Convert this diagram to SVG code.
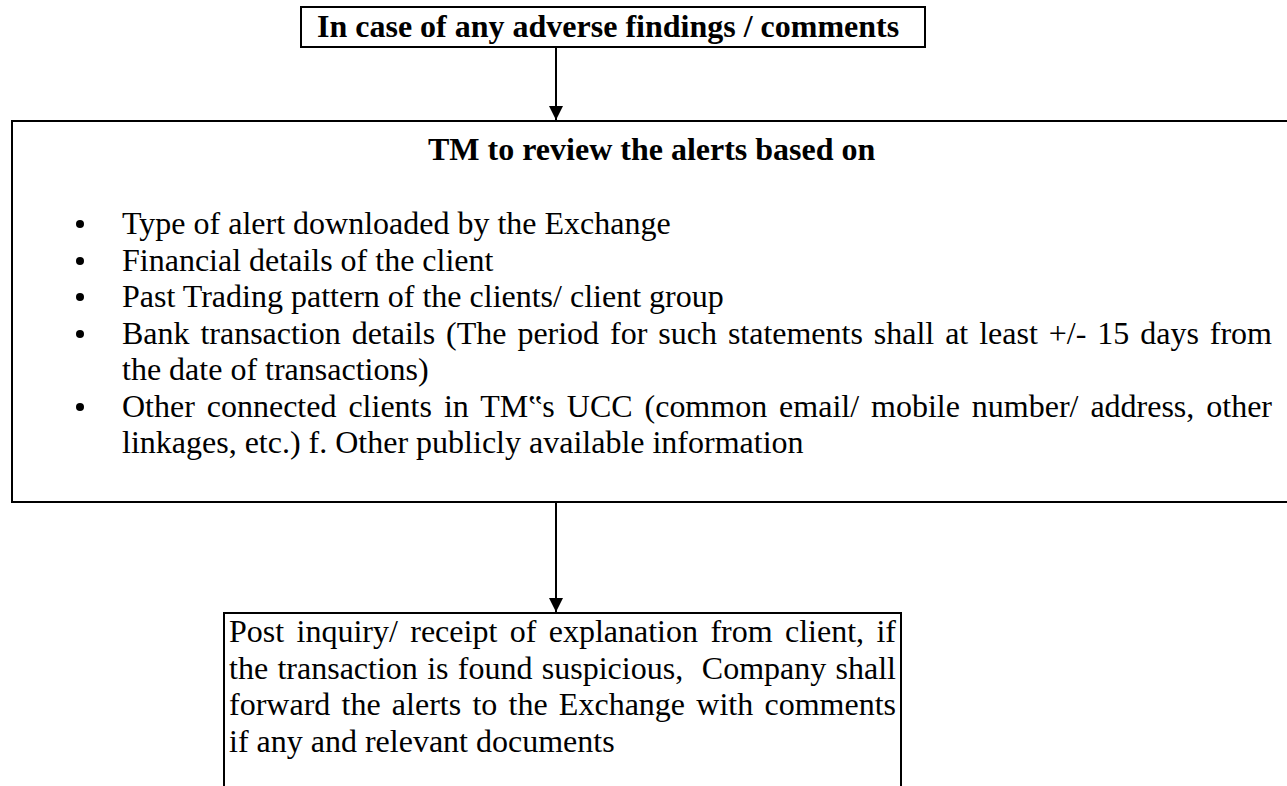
<svg xmlns="http://www.w3.org/2000/svg" width="1287" height="786" viewBox="0 0 1287 786">
<defs>
<marker id="ah" viewBox="0 0 14 14" refX="14" refY="7" markerWidth="14" markerHeight="14" markerUnits="userSpaceOnUse" orient="auto">
<path d="M0,0 L14,7 L0,14 z" fill="#000"/>
</marker>
<style>
.box{fill:#fff;stroke:#000;stroke-width:2}
.t{font-family:"Liberation Serif","Times New Roman","DejaVu Serif",serif;font-size:32px;fill:#000}
.b{font-family:"Liberation Serif","Times New Roman","DejaVu Serif",serif;font-size:32px;font-weight:bold;fill:#000}
.bul{fill:#000}
.conn{stroke:#000;stroke-width:2;fill:none;marker-end:url(#ah)}
</style>
</defs>
<rect width="1287" height="786" fill="#fff"/>
<g id="node-top">
<rect class="box" x="301" y="7" width="624" height="40"/>
<text class="b" x="317" y="37">In case of any adverse findings / comments</text>
</g>
<g id="node-review">
<rect class="box" x="12" y="121" width="1290" height="381"/>
<text class="b" x="428" y="160">TM to review the alerts based on</text>
<g class="bul">
<circle cx="80" cy="224" r="4"/>
<circle cx="80" cy="261" r="4"/>
<circle cx="80" cy="297" r="4"/>
<circle cx="80" cy="334" r="4"/>
<circle cx="80" cy="407" r="4"/>
</g>
<text class="t" x="122" y="234">Type of alert downloaded by the Exchange</text>
<text class="t" x="122" y="271">Financial details of the client</text>
<text class="t" x="122" y="307">Past Trading pattern of the clients/ client group</text>
<text class="t" x="122" y="344" word-spacing="3" textLength="1150" lengthAdjust="spacing">Bank transaction details (The period for such statements shall at least +/- 15 days from</text>
<text class="t" x="122" y="380">the date of transactions)</text>
<text class="t" x="122" y="417" word-spacing="4" textLength="1150" lengthAdjust="spacing">Other connected clients in TM‟s UCC (common email/ mobile number/ address, other</text>
<text class="t" x="122" y="453">linkages, etc.) f. Other publicly available information</text>
</g>
<g id="node-forward">
<rect class="box" x="224" y="613" width="677" height="220"/>
<text class="t" x="229" y="642" word-spacing="4.4" textLength="667" lengthAdjust="spacing">Post inquiry/ receipt of explanation from client, if</text>
<text class="t" x="229" y="679" word-spacing="1.3" textLength="667" lengthAdjust="spacing" xml:space="preserve">the transaction is found suspicious,  Company shall</text>
<text class="t" x="229" y="715" word-spacing="3.2" textLength="667" lengthAdjust="spacing">forward the alerts to the Exchange with comments</text>
<text class="t" x="229" y="752">if any and relevant documents</text>
</g>
<g id="connectors">
<line class="conn" x1="556" y1="47" x2="556" y2="120"/>
<line class="conn" x1="556" y1="502" x2="556" y2="612"/>
</g>
</svg>
